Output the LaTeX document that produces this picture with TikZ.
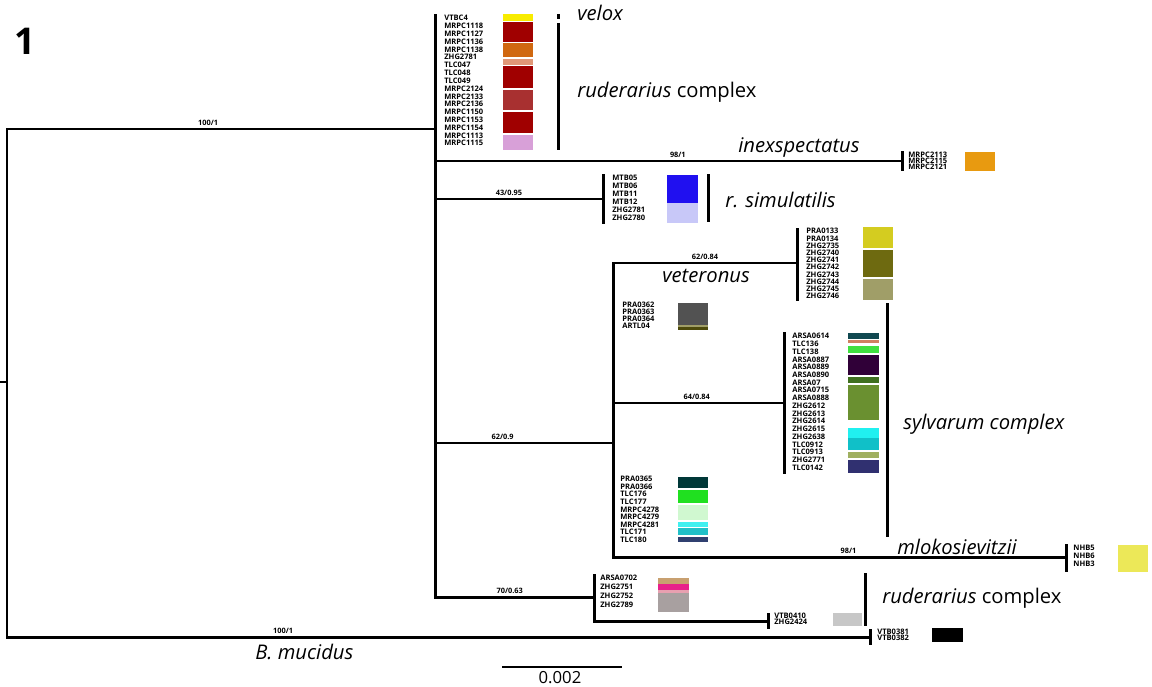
\documentclass[tikz,border=0pt]{standalone}
\usepackage{fontspec}
\setmainfont{Open Sans}
\definecolor{velox}{HTML}{F8EC00}
\definecolor{rudred}{HTML}{A00000}
\definecolor{rudorg}{HTML}{D06810}
\definecolor{rudsal}{HTML}{E09878}
\definecolor{rudbrn}{HTML}{A83030}
\definecolor{rudlil}{HTML}{D8A0D8}
\definecolor{simblu}{HTML}{2010F0}
\definecolor{simlav}{HTML}{C8C8F8}
\definecolor{vetyel}{HTML}{D4CC20}
\definecolor{vetolv}{HTML}{6E6A10}
\definecolor{vetkha}{HTML}{A09E68}
\definecolor{inexorg}{HTML}{E89A10}
\definecolor{mlokyel}{HTML}{ECE858}
\begin{document}
\begin{tikzpicture}[
        x=0.02cm, y=-0.02cm,
        branch/.style={line width=1.7pt, line cap=rect},
        cladebar/.style={line width=1.7pt},
        tiplist/.style={anchor=north west, inner sep=0pt, align=left,
            font=\fontsize{4.3}{#1}\selectfont\bfseries},
        tiplist/.default=4.5,
        support/.style={anchor=south, inner sep=1pt,
            font=\fontsize{4.2}{5}\selectfont\bfseries},
        clade/.style={anchor=west, inner sep=0pt,
            font=\fontsize{11.5}{13}\selectfont}
    ]
    \useasboundingbox (0,0) rectangle (1152,686);

    % NOS DA ARVORE
    \coordinate (root) at (7,382);
    \coordinate (ingroup) at (435,129);
    \coordinate (inex) at (902,161);
    \coordinate (simul) at (603,199);
    \coordinate (sylv) at (613,443);
    \coordinate (veter) at (797,263);
    \coordinate (mid) at (784,403);
    \coordinate (mlok) at (1066,557);
    \coordinate (rudlow) at (594,597);
    \coordinate (rudgry) at (768,621);
    \coordinate (mucid) at (870,637);

    % RAIZ
    \draw[branch] (0,382) -- (root);
    \draw[branch] (root |- ingroup) -- (root |- mucid);
    \draw[branch] (root |- ingroup) -- (ingroup)
        node[support, pos=0.47] {100/1};
    \draw[branch] (root |- mucid) -- (mucid)
        node[support, pos=0.32] {100/1};
    \draw[branch] (mucid |- 0,630) -- (mucid |- 0,643);

    % INGROUP
    \draw[branch] (435,15) -- (ingroup |- rudlow);
    \draw[branch] (ingroup |- inex) -- (inex)
        node[support, pos=0.52] {98/1};
    \draw[branch] (inex |- 0,152) -- (inex |- 0,170);
    \draw[branch] (ingroup |- simul) -- (simul)
        node[support, pos=0.44] {43/0.95};
    \draw[branch] (simul |- 0,175) -- (simul |- 0,223);
    \draw[branch] (ingroup |- sylv) -- (sylv)
        node[support, pos=0.38] {62/0.9};
    \draw[branch] (ingroup |- rudlow) -- (rudlow)
        node[support, pos=0.47] {70/0.63};

    % SYLVARUM
    \draw[branch] (sylv |- veter) -- (sylv |- mlok);
    \draw[branch] (sylv |- veter) -- (veter)
        node[support, pos=0.5] {62/0.84};
    \draw[branch] (veter |- 0,229) -- (veter |- 0,300);
    \draw[branch] (sylv |- mid) -- (mid)
        node[support, pos=0.49] {64/0.84};
    \draw[branch] (mid |- 0,333) -- (mid |- 0,473);
    \draw[branch] (sylv |- mlok) -- (mlok)
        node[support, pos=0.52] {98/1};
    \draw[branch] (mlok |- 0,545) -- (mlok |- 0,570);

    % RUDERARIUS DE BAIXO
    \draw[branch] (rudlow |- 0,575) -- (rudlow |- rudgry);
    \draw[branch] (rudlow |- rudgry) -- (rudgry);
    \draw[branch] (rudgry |- 0,614) -- (rudgry |- 0,627);

    % TERMINAIS
    \node[tiplist=4.45] (tipTop) at (444,15) {VTBC4\\MRPC1118\\MRPC1127\\MRPC1136\\MRPC1138\\ZHG2781\\TLC047\\TLC048\\TLC049\\MRPC2124\\MRPC2133\\MRPC2136\\MRPC1150\\MRPC1153\\MRPC1154\\MRPC1113\\MRPC1115};
    \node[tiplist=3.4] (tipInex) at (908,152) {MRPC2113\\MRPC2115\\MRPC2121};
    \node[tiplist=4.5] (tipSimul) at (612,175) {MTB05\\MTB06\\MTB11\\MTB12\\ZHG2781\\ZHG2780};
    \node[tiplist=4.1] (tipVeter) at (806,228) {PRA0133\\PRA0134\\ZHG2735\\ZHG2740\\ZHG2741\\ZHG2742\\ZHG2743\\ZHG2744\\ZHG2745\\ZHG2746};
    \node[tiplist=4.0] (tipGrey) at (622,302) {PRA0362\\PRA0363\\PRA0364\\ARTL04};
    \node[tiplist=4.4] (tipMid) at (792,333) {ARSA0614\\TLC136\\TLC138\\ARSA0887\\ARSA0889\\ARSA0890\\ARSA07\\ARSA0715\\ARSA0888\\ZHG2612\\ZHG2613\\ZHG2614\\ZHG2615\\ZHG2638\\TLC0912\\TLC0913\\ZHG2771\\TLC0142};
    \node[tiplist=4.3] (tipLow) at (620,476) {PRA0365\\PRA0366\\TLC176\\TLC177\\MRPC4278\\MRPC4279\\MRPC4281\\TLC171\\TLC180};
    \node[tiplist=4.5] (tipMlok) at (1073,545) {NHB5\\NHB6\\NHB3};
    \node[tiplist=5.0] (tipRud) at (600,575) {ARSA0702\\ZHG2751\\ZHG2752\\ZHG2789};
    \node[tiplist=3.4] (tipRudGry) at (774,613) {VTB0410\\ZHG2424};
    \node[tiplist=3.4] (tipMucid) at (877,629) {VTB0381\\VTB0382};

    % CORES
    \foreach \ya/\yb/\c in {14/21/velox, 22/42/rudred, 43/57/rudorg, 59/65/rudsal,
        66/88/rudred, 90/110/rudbrn, 112/133/rudred, 135/150/rudlil}
        \fill[\c] (503,\ya) rectangle (533,\yb);
    \fill[inexorg] (965,152) rectangle (995,171);
    \fill[simblu] (667,175) rectangle (698,203);
    \fill[simlav] (667,203) rectangle (698,223);
    \foreach \ya/\yb/\c in {227/248/vetyel, 250/277/vetolv, 279/300/vetkha}
        \fill[\c] (863,\ya) rectangle (893,\yb);
    \foreach \ya/\yb/\c in {303/325/{black!68}, 325/327/{vetkha}, 327/330/{vetolv!70!black}}
        \fill[\c] (678,\ya) rectangle (708,\yb);
    \foreach \ya/\yb/\h in {333/339/104850, 340/343/D08060, 346/353/40E040,
        355/375/300038, 377/383/407020, 385/420/6A9030, 428/438/20F0F0,
        438/450/10C0C8, 452/458/A0B060, 460/473/303070}
        {\definecolor{stripe}{HTML}{\h}
        \fill[stripe] (848,\ya) rectangle (879,\yb);}
    \foreach \ya/\yb/\h in {477/488/003838, 490/503/20E020, 505/520/D0F8D0,
        522/527/40F0F0, 528/535/20C0C8, 537/542/304070}
        {\definecolor{stripe}{HTML}{\h}
        \fill[stripe] (678,\ya) rectangle (708,\yb);}
    \fill[mlokyel] (1118,545) rectangle (1148,572);
    \foreach \ya/\yb/\h in {578/584/C8A070, 584/590/E8208A, 590/593/E8A0B0, 593/612/A8A0A0}
        {\definecolor{stripe}{HTML}{\h}
        \fill[stripe] (658,\ya) rectangle (689,\yb);}
    \fill[black!22] (833,613) rectangle (862,626);
    \fill[black] (932,628) rectangle (963,642);

    % GRUPOS
    \draw[cladebar] (558,14) -- (558,19);
    \draw[cladebar] (558,23) -- (558,150);
    \node[clade] (velox) at (577,13) {\textit{velox}};
    \node[clade] (rudTop) at (577,92) {\textit{ruderarius} complex};
    \node[clade] (inexLab) at (738,147) {\textit{inexspectatus}};
    \draw[cladebar] (708,174) -- (708,222);
    \node[clade] (simLab) at (725,200) {\textit{r. simulatilis}};
    \node[clade] (vetLab) at (662,276) {\textit{veteronus}};
    \draw[cladebar] (887,303) -- (887,537);
    \node[clade] (sylvLab) at (903,424) {\textit{sylvarum complex}};
    \node[clade] (mlokLab) at (897,547) {\textit{mlokosievitzii}};
    \draw[cladebar] (865,573) -- (865,626);
    \node[clade] (rudLow) at (882,598) {\textit{ruderarius} complex};
    \node[clade] (mucLab) at (255,652) {\textit{B. mucidus}};

    % ESCALA E TITULO
    \coordinate (sbarA) at (502,667);
    \coordinate (sbarB) at (622,667);
    \draw[line width=1.3pt] (sbarA) -- (sbarB);
    \node[inner sep=0pt, font=\fontsize{9.5}{10}\selectfont] (sbarLab) at (560,678) {0.002};
    \node[anchor=north west, inner sep=0pt, font=\fontsize{21}{24}\selectfont\bfseries] (panel) at (14,28) {1};
\end{tikzpicture}
\end{document}
